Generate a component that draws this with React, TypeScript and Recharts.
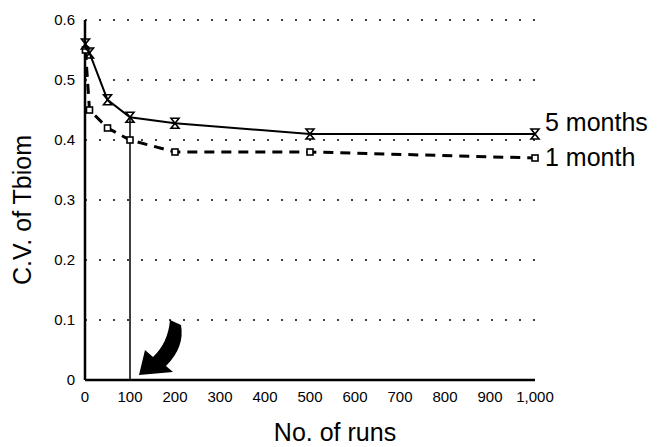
import { LineChart, Line, XAxis, YAxis, CartesianGrid, ReferenceLine, Label } from "recharts";

const runs5 = [1, 10, 50, 100, 200, 500, 1000];
const cv5 = [0.56, 0.545, 0.467, 0.438, 0.428, 0.41, 0.41];
const runs1 = [1, 10, 50, 100, 200, 500, 1000];
const cv1 = [0.55, 0.45, 0.42, 0.4, 0.38, 0.38, 0.37];
const xTicks = [0, 100, 200, 300, 400, 500, 600, 700, 800, 900, 1000];
const yTicks = [0, 0.1, 0.2, 0.3, 0.4, 0.5, 0.6];

const data5 = runs5.map((r, i) => ({ runs: r, cv: cv5[i] }));
const data1 = runs1.map((r, i) => ({ runs: r, cv: cv1[i] }));

const FONT = "'Liberation Sans', Arial, sans-serif";

function Hourglass(props: any) {
  const { cx, cy } = props;
  if (cx == null || cy == null) return null;
  return (
    <path
      d={`M${cx - 4} ${cy - 5} L${cx + 4} ${cy - 5} L${cx - 4} ${cy + 5} L${cx + 4} ${cy + 5} Z`}
      fill="none"
      stroke="#000"
      strokeWidth={1.6}
    />
  );
}

function OpenSquare(props: any) {
  const { cx, cy } = props;
  if (cx == null || cy == null) return null;
  return <rect x={cx - 3} y={cy - 3} width={6} height={6} fill="#fff" stroke="#000" strokeWidth={1.6} />;
}

function endLabel(text: string, last: number, dy: number) {
  return (props: any) => {
    const { x, y, index } = props;
    if (index !== last) return null;
    return (
      <text x={x + 10} y={y + dy} fontFamily={FONT} fontSize={25} fill="#000">
        {text}
      </text>
    );
  };
}

export default function App() {
  return (
    <div style={{ position: "absolute", left: 0, top: 0, width: 661, height: 447, background: "#fff" }}>
      <LineChart width={661} height={447} margin={{ top: 20, right: 126, left: 0, bottom: 0 }}>
        <CartesianGrid horizontal vertical={false} stroke="#000" strokeDasharray="2 12" strokeWidth={1.5} />
        <XAxis
          dataKey="runs"
          type="number"
          domain={[0, 1000]}
          ticks={xTicks}
          tickFormatter={(v: number) => (v === 1000 ? "1,000" : String(v))}
          tickLine={false}
          axisLine={{ stroke: "#000", strokeWidth: 2.5 }}
          tick={{ fontSize: 15, fill: "#000", fontFamily: FONT }}
          tickMargin={5}
          height={67}
        >
          <Label value="No. of runs" position="insideBottom" offset={6} dx={25} style={{ fontSize: 25, fill: "#000", fontFamily: FONT }} />
        </XAxis>
        <YAxis
          type="number"
          domain={[0, 0.6]}
          ticks={yTicks}
          tickFormatter={(v: number) => (v === 0 ? "0" : v.toFixed(1))}
          tickLine={false}
          axisLine={{ stroke: "#000", strokeWidth: 2.5 }}
          tick={{ fontSize: 15, fill: "#000", fontFamily: FONT }}
          tickMargin={4}
          width={85}
        >
          <Label
            value="C.V. of Tbiom"
            angle={-90}
            position="insideLeft"
            offset={22}
            dy={10}
            style={{ fontSize: 25, fill: "#000", fontFamily: FONT, textAnchor: "middle" }}
          />
        </YAxis>
        <ReferenceLine segment={[{ x: 100, y: 0 }, { x: 100, y: 0.438 }]} stroke="#000" strokeWidth={1.5} />
        <Line
          data={data1}
          dataKey="cv"
          type="linear"
          stroke="#000"
          strokeWidth={3}
          strokeDasharray="10 7"
          dot={<OpenSquare />}
          isAnimationActive={false}
          label={endLabel("1 month", data1.length - 1, 8)}
        />
        <Line
          data={data5}
          dataKey="cv"
          type="linear"
          stroke="#000"
          strokeWidth={2}
          dot={<Hourglass />}
          isAnimationActive={false}
          label={endLabel("5 months", data5.length - 1, -3)}
        />
      </LineChart>
      <svg width={661} height={447} style={{ position: "absolute", left: 0, top: 0, pointerEvents: "none" }}>
        <path
          d="M139 375 L145 350 L153 357 Q168 343 170 320 L181 325 Q185 347 166 366 L173 372 Z"
          fill="#000"
        />
      </svg>
    </div>
  );
}
